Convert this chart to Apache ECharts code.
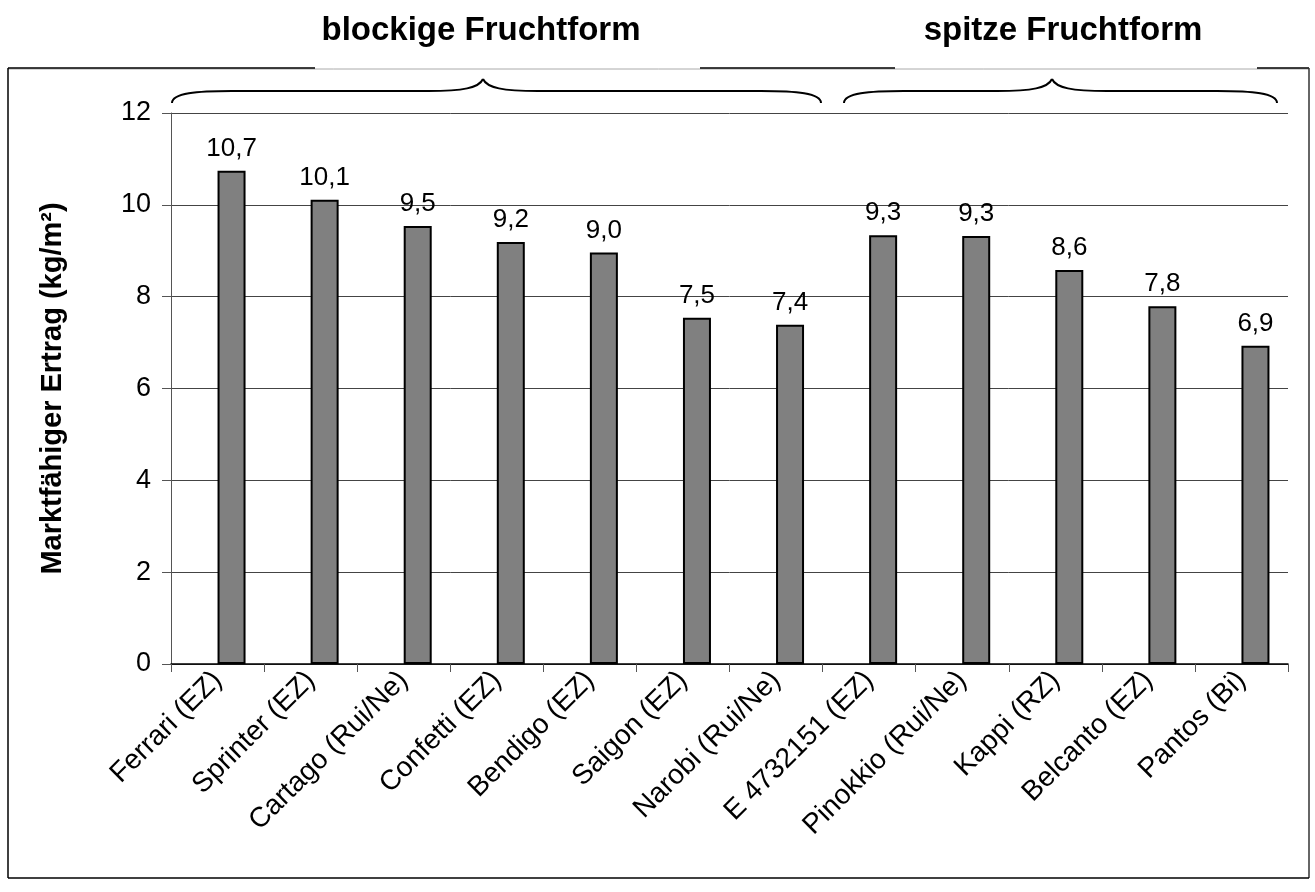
<!DOCTYPE html>
<html>
<head>
<meta charset="utf-8">
<script src="https://cdn.jsdelivr.net/npm/echarts@6/dist/echarts.min.js"></script>
<style>
  html, body { margin: 0; padding: 0; background: #fff; }
  #chart { width: 1315px; height: 892px; }
</style>
</head>
<body>
<div id="chart"></div>
<script>
var sorten = ['Ferrari (EZ)', 'Sprinter (EZ)', 'Cartago (Rui/Ne)', 'Confetti (EZ)', 'Bendigo (EZ)',
  'Saigon (EZ)', 'Narobi (Rui/Ne)', 'E 4732151 (EZ)', 'Pinokkio (Rui/Ne)', 'Kappi (RZ)',
  'Belcanto (EZ)', 'Pantos (Bi)']
var ertrag = [10.74, 10.11, 9.54, 9.19, 8.96, 7.54, 7.39, 9.34, 9.32, 8.58, 7.79, 6.93]
var leer = [null, null, null, null, null, null, null, null, null, null, null, null]
var gruppen = ['blockige Fruchtform', 'spitze Fruchtform']

var font = "'Liberation Sans', Arial, sans-serif"

// geschweifte Klammer ueber einer Gruppe (Kurven + Geraden)
function klammer (x1, x2, m) {
  var yEnd = 103
  var yLine = 91
  var yTop = 79
  var st = { stroke: '#000', lineWidth: 2, fill: null }
  var c = function (a, b, c1x, c1y, c2x, c2y) {
    return { type: 'bezierCurve', shape: { x1: a[0], y1: a[1], x2: b[0], y2: b[1], cpx1: c1x, cpy1: c1y, cpx2: c2x, cpy2: c2y }, style: st }
  }
  var l = function (a, b) {
    return { type: 'line', shape: { x1: a[0], y1: a[1], x2: b[0], y2: b[1] }, style: st }
  }
  return [
    c([x1, yEnd], [x1 + 60, yLine], x1, yLine + 2, x1 + 25, yLine),
    l([x1 + 60, yLine], [m - 55, yLine]),
    c([m - 55, yLine], [m, yTop], m - 20, yLine, m - 4, yLine - 3),
    c([m, yTop], [m + 55, yLine], m + 4, yLine - 3, m + 20, yLine),
    l([m + 55, yLine], [x2 - 60, yLine]),
    c([x2 - 60, yLine], [x2, yEnd], x2 - 25, yLine, x2, yLine + 2)
  ]
}

var rahmen = [
  { type: 'line', shape: { x1: 8, y1: 69, x2: 1309, y2: 69 }, style: { stroke: '#aaa', lineWidth: 1 } },
  { type: 'line', shape: { x1: 8, y1: 68, x2: 315, y2: 68 }, style: { stroke: '#000', lineWidth: 1.5 } },
  { type: 'line', shape: { x1: 700, y1: 68, x2: 895, y2: 68 }, style: { stroke: '#000', lineWidth: 1.5 } },
  { type: 'line', shape: { x1: 1257, y1: 68, x2: 1309, y2: 68 }, style: { stroke: '#000', lineWidth: 1.5 } },
  { type: 'line', shape: { x1: 8, y1: 68, x2: 8, y2: 878 }, style: { stroke: '#000', lineWidth: 1.5 } },
  { type: 'line', shape: { x1: 1309, y1: 68, x2: 1309, y2: 878 }, style: { stroke: '#333', lineWidth: 1.5 } },
  { type: 'line', shape: { x1: 8, y1: 878, x2: 1309, y2: 878 }, style: { stroke: '#000', lineWidth: 1.5 } }
]

var titel = [
  {
    type: 'text', x: 481, y: 31,
    style: { text: gruppen[0], font: 'bold 33px ' + font, fill: '#000', textAlign: 'center', textVerticalAlign: 'middle' }
  },
  {
    type: 'text', x: 1063, y: 31,
    style: { text: gruppen[1], font: 'bold 33px ' + font, fill: '#000', textAlign: 'center', textVerticalAlign: 'middle' }
  }
]

var myChart = echarts.init(document.getElementById('chart'))
myChart.setOption({
  animation: false,
  backgroundColor: '#fff',
  textStyle: { fontFamily: font },
  grid: { left: 171, right: 27, top: 113, bottom: 228 },
  xAxis: {
    type: 'category',
    data: sorten,
    axisLine: { lineStyle: { color: '#000', width: 1.5 } },
    axisTick: { show: true, length: 8, lineStyle: { color: '#555' } },
    axisLabel: {
      interval: 0,
      rotate: 45,
      margin: 12,
      color: '#000',
      fontSize: 28,
      fontFamily: font
    }
  },
  yAxis: {
    type: 'value',
    min: 0,
    max: 12,
    interval: 2,
    name: 'Marktfähiger Ertrag (kg/m²)',
    nameLocation: 'middle',
    nameGap: 104,
    nameTextStyle: { color: '#000', fontSize: 29, fontWeight: 'bold', fontFamily: font },
    axisLine: { show: true, lineStyle: { color: '#555', width: 1 } },
    axisTick: { show: true, length: 9, lineStyle: { color: '#555' } },
    axisLabel: { color: '#000', fontSize: 27, margin: 20, fontFamily: font },
    splitLine: { lineStyle: { color: '#444', width: 1 } }
  },
  series: [{
    type: 'bar',
    data: leer,
    barWidth: 28,
    barGap: '0%'
  }, {
    type: 'bar',
    data: ertrag,
    barWidth: 28,
    barGap: '0%',
    itemStyle: { color: '#808080', borderColor: '#000', borderWidth: 2 },
    label: {
      show: true,
      position: 'top',
      distance: 9,
      color: '#000',
      fontSize: 26,
      fontFamily: font,
      formatter: function (p) {
        return p.value.toFixed(1).replace('.', ',')
      }
    }
  }],
  graphic: rahmen.concat(klammer(172, 821, 483), klammer(844, 1277, 1052), titel)
})
</script>
</body>
</html>
